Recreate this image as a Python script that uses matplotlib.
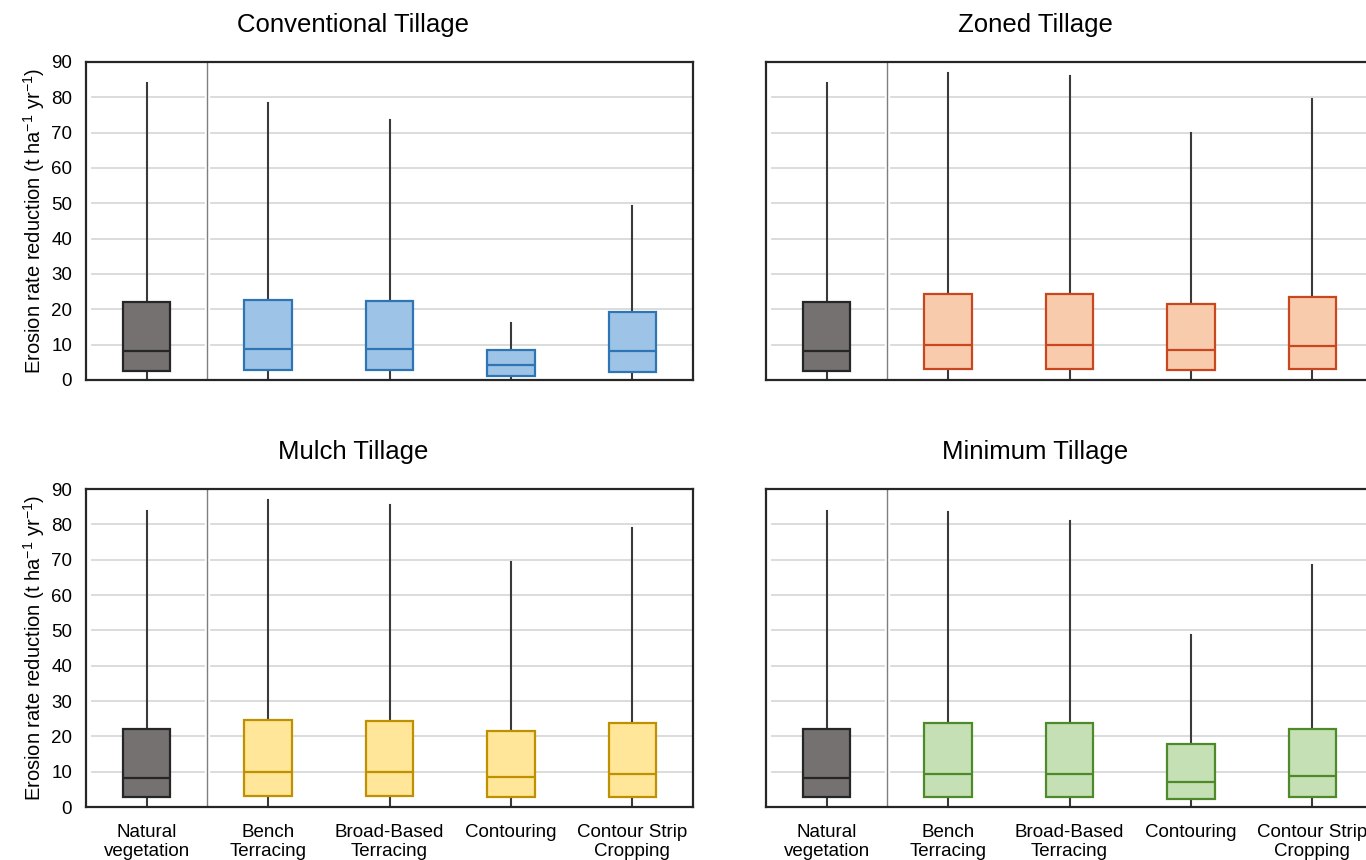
import numpy as np
import matplotlib
matplotlib.use("Agg")
import matplotlib.pyplot as plt

plt.rcParams['font.family'] = ['Liberation Sans', 'DejaVu Sans']
plt.rcParams['mathtext.fontset'] = 'custom'
plt.rcParams['mathtext.rm'] = 'Liberation Sans'

categories = ["Natural\nvegetation", "Bench\nTerracing", "Broad-Based\nTerracing",
              "Contouring", "Contour Strip\nCropping"]

panel_titles = ["Conventional Tillage", "Zoned Tillage", "Mulch Tillage", "Minimum Tillage"]

# per panel: whisker low, Q1, median, Q3, whisker high (one value per category)
conv_low = [0.5, 0.5, 0.5, 0.5, 0.5]
conv_q1 = [2.6, 2.9, 2.9, 1.2, 2.4]
conv_med = [8.2, 8.9, 8.7, 4.3, 8.2]
conv_q3 = [22.1, 22.6, 22.4, 8.6, 19.3]
conv_high = [84.0, 78.4, 73.5, 16.2, 49.3]

zoned_low = [0.5, 0.5, 0.5, 0.5, 0.5]
zoned_q1 = [2.6, 3.1, 3.1, 2.7, 3.1]
zoned_med = [8.2, 9.9, 9.9, 8.6, 9.6]
zoned_q3 = [22.0, 24.4, 24.4, 21.6, 23.6]
zoned_high = [84.0, 87.0, 85.9, 70.0, 79.6]

mulch_low = [0.5, 0.5, 0.5, 0.5, 0.5]
mulch_q1 = [2.7, 3.2, 3.2, 2.7, 2.9]
mulch_med = [8.1, 9.8, 9.8, 8.6, 9.4]
mulch_q3 = [22.0, 24.7, 24.4, 21.5, 23.7]
mulch_high = [83.8, 86.8, 85.5, 69.2, 79.1]

mini_low = [0.5, 0.5, 0.5, 0.5, 0.5]
mini_q1 = [2.7, 2.9, 2.9, 2.2, 2.7]
mini_med = [8.1, 9.4, 9.4, 7.2, 8.9]
mini_q3 = [22.0, 23.9, 23.7, 17.7, 22.0]
mini_high = [83.8, 83.6, 81.0, 48.8, 68.6]

panels = [
    (conv_low, conv_q1, conv_med, conv_q3, conv_high),
    (zoned_low, zoned_q1, zoned_med, zoned_q3, zoned_high),
    (mulch_low, mulch_q1, mulch_med, mulch_q3, mulch_high),
    (mini_low, mini_q1, mini_med, mini_q3, mini_high),
]

natural_fill, natural_edge = "#767171", "#262626"
panel_fill = ["#9DC3E6", "#F8CBAD", "#FFE699", "#C5E0B4"]
panel_edge = ["#2E75B6", "#C9471E", "#BF9000", "#4E8A2A"]

W, H = 1366, 860
fig = plt.figure(figsize=(W / 100, H / 100), dpi=100)

# axes boxes in pixels: left, top, right, bottom
boxes_px = [(86, 62, 693, 380), (766, 62, 1373, 380),
            (86, 489, 693, 807), (766, 489, 1373, 807)]
title_x = [353, 1035, 353, 1035]
title_y = [25, 25, 452, 452]

for i, (l, t, r, b) in enumerate(boxes_px):
    ax = fig.add_axes([l / W, 1 - b / H, (r - l) / W, (b - t) / H])
    low, q1, med, q3, high = panels[i]
    stats = []
    for k in range(len(categories)):
        stats.append(dict(whislo=low[k], q1=q1[k], med=med[k], q3=q3[k],
                          whishi=high[k], fliers=[]))
    res = ax.bxp(stats, positions=np.arange(len(categories)), widths=0.39,
                 patch_artist=True, showcaps=False, showfliers=False,
                 whiskerprops=dict(color="#3A3A3A", linewidth=1.5),
                 boxprops=dict(linewidth=1.6),
                 medianprops=dict(linewidth=1.6))
    for k, patch in enumerate(res["boxes"]):
        fc = natural_fill if k == 0 else panel_fill[i]
        ec = natural_edge if k == 0 else panel_edge[i]
        patch.set_facecolor(fc)
        patch.set_edgecolor(ec)
        patch.set_zorder(3)
        res["medians"][k].set_color(ec)
        res["medians"][k].set_zorder(4)

    ax.set_xlim(-0.5, len(categories) - 0.5)
    ax.set_ylim(0, 90)
    ax.set_yticks(np.arange(0, 91, 10))
    for gy in range(10, 90, 10):
        ax.plot([-0.45, 0.47], [gy, gy], color="#D9D9D9", linewidth=1.3, zorder=0)
        ax.plot([0.53, len(categories) - 0.52], [gy, gy], color="#D9D9D9",
                linewidth=1.3, zorder=0)
    ax.axvline(0.5, color="#7F7F7F", linewidth=1.0, zorder=1)
    for s in ax.spines.values():
        s.set_linewidth(1.6)
        s.set_color("#262626")
    ax.tick_params(axis="both", length=0, labelsize=13.5, pad=10)
    ax.set_xticks(np.arange(len(categories)))
    if i >= 2:
        ax.set_xticklabels(categories, fontsize=13.5, linespacing=1.15)
        ax.tick_params(axis="x", pad=12)
    else:
        ax.set_xticklabels([])
    if i % 2 == 1:
        ax.set_yticklabels([])
    else:
        ax.set_ylabel("Erosion rate reduction (t ha$^{\\mathregular{-1}}$ yr$^{\\mathregular{-1}}$)",
                      fontsize=14.5, labelpad=3)
    fig.text(title_x[i] / W, 1 - title_y[i] / H, panel_titles[i],
             ha="center", va="center", fontsize=18.5)

fig.savefig("out.png", dpi=100)
